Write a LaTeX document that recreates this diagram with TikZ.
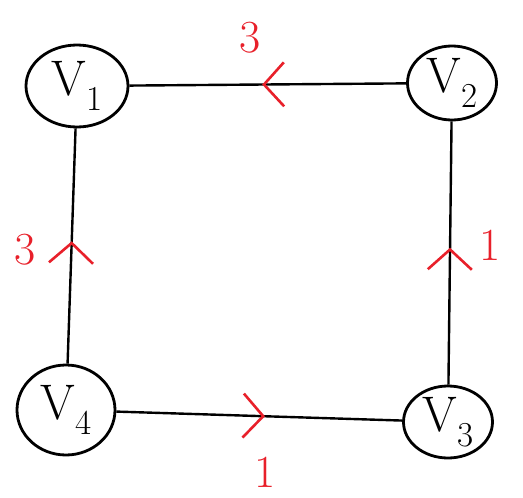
\documentclass[tikz,border=0pt]{standalone}
\usetikzlibrary{arrows.meta, decorations.markings, shapes.geometric}
\usepackage{xcolor}
\definecolor{ink-red}{HTML}{E8202A}

\tikzset{
  vertex/.style={draw, line width=2.8pt, ellipse, inner sep=0pt, font=\fontsize{50}{56}\selectfont},
  weight/.style={text=ink-red, font=\fontsize{46}{52}\selectfont},
  flow/.style={line width=2.4pt, postaction={decorate}, decoration={markings,
      mark=at position 0.52 with {\arrow[ink-red, line width=2.6pt]{Straight Barb[length=20pt, width=44pt]}}}}
}

\begin{document}
\begin{tikzpicture}[x=1pt, y=-1pt]
  \useasboundingbox (0, 0) rectangle (523, 498);
  \node[vertex, minimum width=102pt, minimum height=82pt] (v1) at (77, 86) {V\textsubscript{1}};
  \node[vertex, minimum width=89pt, minimum height=74pt] (v2) at (452, 83) {V\textsubscript{2}};
  \node[vertex, minimum width=89pt, minimum height=72pt] (v3) at (448, 422) {V\textsubscript{3}};
  \node[vertex, minimum width=98pt, minimum height=90pt] (v4) at (66, 410) {V\textsubscript{4}};
  \draw[flow] (v2) -- (v1);
  \draw[flow] (v4) -- (v1);
  \draw[flow] (v3) -- (v2);
  \draw[flow] (v4) -- (v3);
  \node[weight] (w21) at (250, 38) {3};
  \node[weight] (w41) at (25, 250) {3};
  \node[weight] (w32) at (490, 245) {1};
  \node[weight] (w43) at (265, 472) {1};
\end{tikzpicture}
\end{document}
